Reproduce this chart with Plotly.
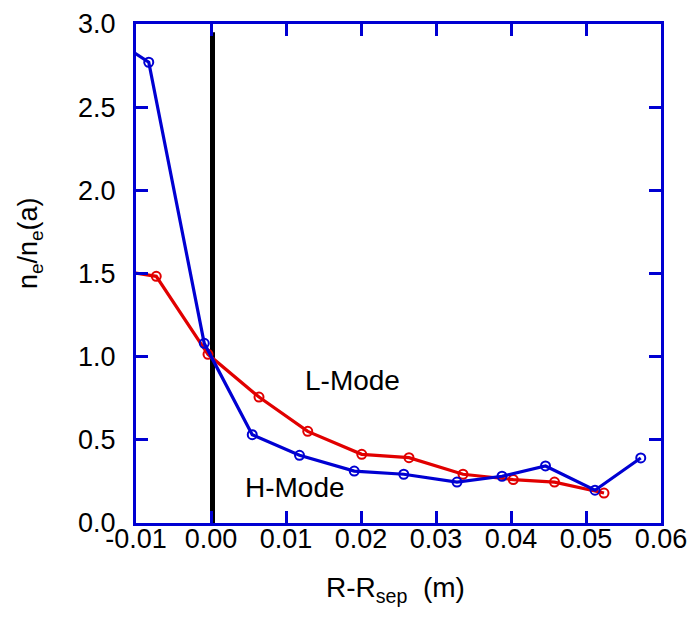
import plotly.graph_objects as go

# H-Mode (blue) profile
h_x = [-0.011, -0.0083, -0.0009, 0.0055, 0.0118, 0.0191, 0.0257, 0.0328, 0.0388, 0.0446, 0.0512, 0.0573]
h_y = [2.85, 2.77, 1.08, 0.531, 0.407, 0.312, 0.293, 0.246, 0.281, 0.343, 0.197, 0.391]

# L-Mode (red) profile
l_x = [-0.011, -0.0073, -0.0004, 0.0064, 0.0129, 0.0201, 0.0264, 0.0336, 0.0403, 0.0458, 0.0524]
l_y = [1.51, 1.483, 1.014, 0.757, 0.551, 0.413, 0.393, 0.293, 0.261, 0.246, 0.180]

# separatrix marker
sep_x = [0.0002, 0.0002]
sep_y = [0.0, 2.95]

x_ticks = [-0.01, 0.0, 0.01, 0.02, 0.03, 0.04, 0.05, 0.06]
x_tick_text = ["-0.01", "0.00", "0.01", "0.02", "0.03", "0.04", "0.05", "0.06"]
y_ticks = [0.0, 0.5, 1.0, 1.5, 2.0, 2.5, 3.0]
y_tick_text = ["0.0", "0.5", "1.0", "1.5", "2.0", "2.5", "3.0"]

BLUE = "rgb(0,0,210)"
RED = "rgb(225,0,0)"
FONT = "Liberation Sans, Arial, sans-serif"

fig = go.Figure()
fig.add_trace(go.Scatter(x=sep_x, y=sep_y, mode="lines",
                         line=dict(color="black", width=5), showlegend=False))
fig.add_trace(go.Scatter(x=l_x, y=l_y, mode="lines+markers",
                         line=dict(color=RED, width=3.2),
                         marker=dict(symbol="circle-open", size=9, color=RED, line=dict(width=2)),
                         showlegend=False, cliponaxis=True))
fig.add_trace(go.Scatter(x=h_x, y=h_y, mode="lines+markers",
                         line=dict(color=BLUE, width=3.2),
                         marker=dict(symbol="circle-open", size=9, color=BLUE, line=dict(width=2)),
                         showlegend=False, cliponaxis=True))

fig.add_annotation(x=0.0188, y=0.858, text="L-Mode", showarrow=False,
                   xanchor="center", yanchor="middle",
                   font=dict(family=FONT, size=28, color="black"))
fig.add_annotation(x=0.0112, y=0.215, text="H-Mode", showarrow=False,
                   xanchor="center", yanchor="middle",
                   font=dict(family=FONT, size=28, color="black"))

# axis titles
fig.add_annotation(xref="paper", yref="paper", x=0.495, y=-0.134,
                   xanchor="center", yanchor="middle",
                   text="R-R<sub>sep</sub>  (m)", showarrow=False,
                   font=dict(family=FONT, size=28, color="black"))
fig.add_annotation(xref="paper", yref="paper", x=-0.202, y=0.561, textangle=-90,
                   xanchor="center", yanchor="middle",
                   text="n<sub>e</sub>/n<sub>e</sub>(a)", showarrow=False,
                   font=dict(family=FONT, size=27, color="black"))

axis_common = dict(showline=True, linecolor=BLUE, linewidth=3, mirror="allticks",
                   ticks="inside", ticklen=12, tickwidth=3, tickcolor=BLUE,
                   showgrid=False, zeroline=False, automargin=False,
                   tickfont=dict(family=FONT, size=27, color="black"))

fig.update_xaxes(range=[-0.01, 0.06], tickvals=x_ticks, ticktext=x_tick_text,
                 ticklabelstandoff=-10, **axis_common)
fig.update_yaxes(range=[0, 3.0], tickvals=y_ticks, ticktext=y_tick_text,
                 ticklabelstandoff=12, **axis_common)

fig.update_layout(width=694, height=626, margin=dict(l=136, r=33, t=24, b=103),
                  plot_bgcolor="white", paper_bgcolor="white")

fig.write_html("out.html")
